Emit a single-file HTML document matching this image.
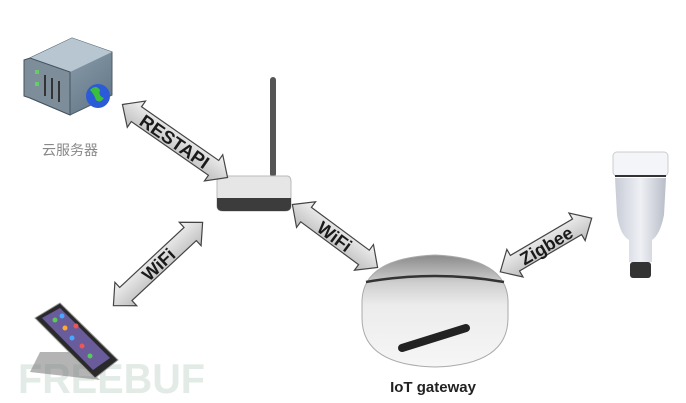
<!DOCTYPE html>
<html><head><meta charset="utf-8"><style>
html,body{margin:0;padding:0;background:#fff;}
svg{display:block;}
</style></head><body>
<svg width="686" height="403" viewBox="0 0 686 403" xmlns="http://www.w3.org/2000/svg">
<defs>
<linearGradient id="ag" x1="0" y1="0" x2="0" y2="1"><stop offset="0" stop-color="#f4f4f4"/><stop offset="1" stop-color="#bcbcbc"/></linearGradient>
<linearGradient id="dome" x1="0" y1="0" x2="0" y2="1"><stop offset="0" stop-color="#8a8a8a"/><stop offset="0.25" stop-color="#cfcfcf"/><stop offset="0.45" stop-color="#ececec"/><stop offset="1" stop-color="#f6f6f6"/></linearGradient>
<linearGradient id="bulb" x1="0" y1="0" x2="1" y2="0"><stop offset="0" stop-color="#c8ccd6"/><stop offset="0.5" stop-color="#eef0f5"/><stop offset="1" stop-color="#b9bdc8"/></linearGradient>
<linearGradient id="srv" x1="0" y1="0" x2="1" y2="1"><stop offset="0" stop-color="#9fb0bd"/><stop offset="1" stop-color="#5d7282"/></linearGradient>
</defs>
<rect width="686" height="403" fill="#fff"/>

<!-- watermark -->
<text x="18" y="393" font-family="Liberation Sans,sans-serif" font-weight="bold" font-size="42" fill="#e3ebe6" textLength="187" lengthAdjust="spacingAndGlyphs">FREEBUF</text>

<!-- server -->
<polygon points="30,58 72,38 112,52 112,95 70,115 30,98" fill="url(#srv)" stroke="#4d5d69" stroke-width="1"/>
<polygon points="30,58 72,38 112,52 70,72" fill="#b7c6d1"/>
<polygon points="24,60 30,58 70,72 70,115 30,98 24,96" fill="#7d8e9a" stroke="#44525d" stroke-width="1"/>
<rect x="35" y="70" width="4" height="4" fill="#6c6"/><rect x="35" y="82" width="4" height="4" fill="#6c6"/>
<line x1="45" y1="75" x2="45" y2="96" stroke="#333" stroke-width="2"/><line x1="52" y1="78" x2="52" y2="99" stroke="#333" stroke-width="2"/><line x1="59" y1="81" x2="59" y2="102" stroke="#333" stroke-width="2"/>
<circle cx="98" cy="96" r="12" fill="#2b5bd6"/><path d="M90,90 q6,-6 10,0 q-2,6 4,8 q-4,6 -8,2 q-2,-6 -6,-10z" fill="#3bbf3b"/>
<text x="70" y="155" text-anchor="middle" font-family="Liberation Sans,'Noto Sans CJK SC',sans-serif" font-size="14" fill="#888">云服务器</text>

<!-- router -->
<rect x="270" y="77" width="6" height="100" rx="3" fill="#555"/>
<path d="M221,176 L287,176 Q291,176 291,182 L291,206 Q291,211 285,211 L223,211 Q217,211 217,206 L217,182 Q217,176 221,176z" fill="#e6e6e6" stroke="#bbb"/>
<path d="M217,198 L291,198 L291,206 Q291,211 285,211 L223,211 Q217,211 217,206z" fill="#3c3c3c"/>

<!-- phone -->
<polygon points="30,372 100,380 72,352 40,352" fill="#777" opacity="0.55"/>
<polygon points="35,318 60,303 118,360 95,378" fill="#2a2a2a" stroke="#999" stroke-width="1"/>
<polygon points="42,318 60,308 110,358 93,370" fill="#6a5b9a"/>
<circle cx="55" cy="320" r="2.5" fill="#5c5"/><circle cx="65" cy="328" r="2.5" fill="#fa3"/><circle cx="72" cy="338" r="2.5" fill="#4af"/><circle cx="82" cy="346" r="2.5" fill="#e55"/><circle cx="90" cy="356" r="2.5" fill="#5c5"/><circle cx="62" cy="316" r="2.5" fill="#4af"/><circle cx="76" cy="326" r="2.5" fill="#e55"/>

<!-- gateway -->
<path d="M362,300 Q364,258 435,255 Q506,258 508,300 L508,318 Q508,365 435,367 Q362,365 362,318z" fill="url(#dome)" stroke="#aaa"/>
<path d="M366,282 Q435,270 504,282" stroke="#333" stroke-width="2.5" fill="none"/>
<path d="M402,348 L466,328" stroke="#222" stroke-width="8" stroke-linecap="round"/>
<text x="433" y="392" text-anchor="middle" font-family="Liberation Sans,sans-serif" font-weight="bold" font-size="15" fill="#222">IoT gateway</text>

<!-- bulb -->
<rect x="613" y="152" width="55" height="24" rx="4" fill="#f4f5f8" stroke="#ccc"/>
<line x1="615" y1="176" x2="666" y2="176" stroke="#333" stroke-width="2"/>
<path d="M615,178 L666,178 L664,215 Q660,235 652,240 L652,262 L629,262 L629,240 Q620,235 617,215z" fill="url(#bulb)"/>
<rect x="630" y="262" width="21" height="16" rx="3" fill="#333"/>

<!-- arrows -->
<g font-family="Liberation Sans,sans-serif" font-weight="bold" font-size="18" fill="#1a1a1a" text-anchor="middle">
<g transform="translate(175,141) rotate(34.8)">
<polygon points="-64,0 -47,-16 -47,-9 47,-9 47,-16 64,0 47,16 47,9 -47,9 -47,16" fill="url(#ag)" stroke="#444" stroke-width="1.2"/>
<text x="0" y="7" textLength="80" lengthAdjust="spacingAndGlyphs">RESTAPI</text></g>
<g transform="translate(158,264) rotate(-43)">
<polygon points="-61,0 -44,-16 -44,-9 44,-9 44,-16 61,0 44,16 44,9 -44,9 -44,16" fill="url(#ag)" stroke="#444" stroke-width="1.2"/>
<text x="0" y="7">WiFi</text></g>
<g transform="translate(335,236) rotate(36.5)">
<polygon points="-53,0 -36,-16 -36,-9 36,-9 36,-16 53,0 36,16 36,9 -36,9 -36,16" fill="url(#ag)" stroke="#444" stroke-width="1.2"/>
<text x="0" y="7">WiFi</text></g>
<g transform="translate(546,245) rotate(-30.4)">
<polygon points="-53,0 -36,-16 -36,-9 36,-9 36,-16 53,0 36,16 36,9 -36,9 -36,16" fill="url(#ag)" stroke="#444" stroke-width="1.2"/>
<text x="0" y="7">Zigbee</text></g>
</g>
</svg>
</body></html>
